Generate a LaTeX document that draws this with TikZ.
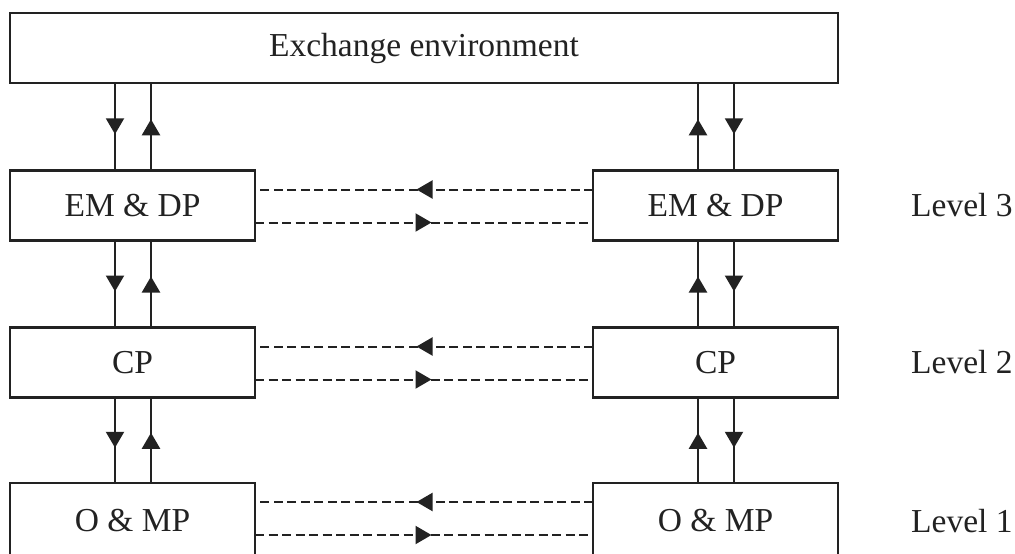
\documentclass[tikz,border=0pt]{standalone}
\usepackage{fontspec}
\setmainfont{Liberation Serif}
\usetikzlibrary{arrows.meta,decorations.markings,calc}
\definecolor{ink}{HTML}{222222}
\begin{document}
\begin{tikzpicture}[x=1pt,y=-1pt,
  box/.style={draw=ink, line width=2.1pt, inner sep=0pt, outer sep=0pt,
    text=ink, font=\fontsize{33.5}{38}\selectfont},
  lvl/.style={box, minimum width=245pt, minimum height=70pt},
  tag/.style={anchor=west, inner sep=0pt, text=ink, font=\fontsize{33.5}{38}\selectfont},
  midtip/.style={postaction={decorate}, decoration={markings,
    mark=at position 0.5 with {\arrow[xshift=7.5pt]{Triangle[width=18pt,length=16pt]}}}},
  flow/.style={draw=ink, line width=2.2pt, midtip},
  talk/.style={flow, line width=2pt, dash pattern=on 9pt off 4.5pt}
]
\useasboundingbox (0,0) rectangle (1015,554);
\clip (0,0) rectangle (1015,554);

% environment and the three levels of each side
\node[box, minimum width=828pt, minimum height=70pt] (env) at (424,48) {Exchange environment};
\node[lvl] (a3) at (132.5,205.5) {EM \& DP};
\node[lvl] (b3) at (715.5,205.5) {EM \& DP};
\node[lvl] (a2) at (132.5,362.5) {CP};
\node[lvl] (b2) at (715.5,362.5) {CP};
\node[lvl, minimum height=76pt] (a1) at (132.5,521) {O \& MP};
\node[lvl, minimum height=76pt] (b1) at (715.5,521) {O \& MP};

\node[tag] (t3) at (911,205.5) {Level 3};
\node[tag] (t2) at (911,362.5) {Level 2};
\node[tag] (t1) at (911,521) {Level 1};

% vertical exchanges, left side: down then up
\draw[flow] ($(env.south -| a3.north)+(-17.5,0)$) -- ($(a3.north)+(-17.5,0)$);
\draw[flow] ($(a3.north)+(18.5,0)$) -- ($(env.south -| a3.north)+(18.5,0)$);
\draw[flow] ($(a3.south)+(-17.5,0)$) -- ($(a2.north)+(-17.5,0)$);
\draw[flow] ($(a2.north)+(18.5,0)$) -- ($(a3.south)+(18.5,0)$);
\draw[flow] ($(a2.south)+(-17.5,0)$) -- ($(a1.north)+(-17.5,0)$);
\draw[flow] ($(a1.north)+(18.5,0)$) -- ($(a2.south)+(18.5,0)$);

% vertical exchanges, right side: up then down
\draw[flow] ($(b3.north)+(-17.5,0)$) -- ($(env.south -| b3.north)+(-17.5,0)$);
\draw[flow] ($(env.south -| b3.north)+(18.5,0)$) -- ($(b3.north)+(18.5,0)$);
\draw[flow] ($(b2.north)+(-17.5,0)$) -- ($(b3.south)+(-17.5,0)$);
\draw[flow] ($(b3.south)+(18.5,0)$) -- ($(b2.north)+(18.5,0)$);
\draw[flow] ($(b1.north)+(-17.5,0)$) -- ($(b2.south)+(-17.5,0)$);
\draw[flow] ($(b2.south)+(18.5,0)$) -- ($(b1.north)+(18.5,0)$);

% peer exchanges between the two sides
\foreach \l in {3,2,1}{
  \draw[talk] ($(b\l.north west)+(0,19)$) -- ($(a\l.north east)+(0,19)$);
  \draw[talk] ($(a\l.north east)+(0,52)$) -- ($(b\l.north west)+(0,52)$);
}
\end{tikzpicture}
\end{document}
